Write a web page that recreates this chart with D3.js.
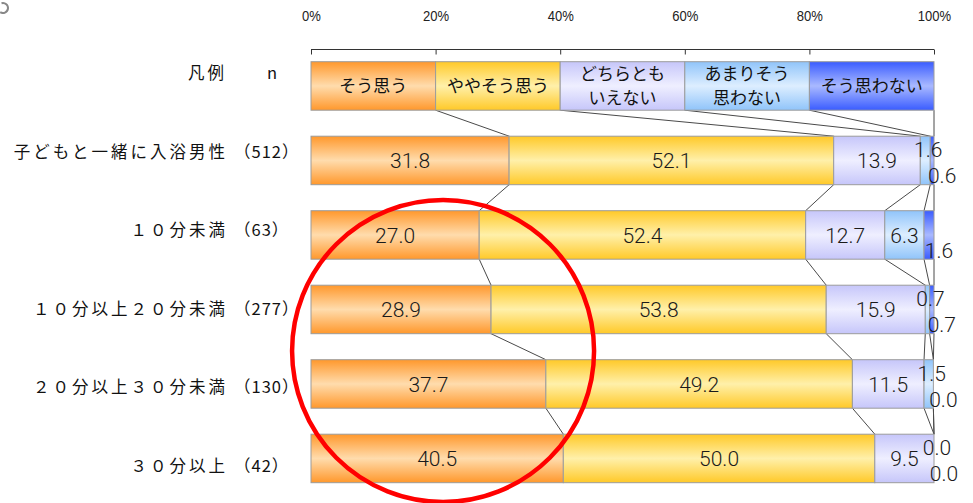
<!DOCTYPE html>
<html><head><meta charset="utf-8">
<script src="https://cdn.jsdelivr.net/npm/d3@7/dist/d3.min.js"></script>
<style>
html,body{margin:0;padding:0;background:#fff;}
svg{display:block;}
</style></head>
<body>
<svg id="chart" width="973" height="503"></svg>
<script>
// ---------- data ----------
const categories = ["子どもと一緒に入浴男性","１０分未満","１０分以上２０分未満","２０分以上３０分未満","３０分以上"];
const nLabels = ["（512）","（63）","（277）","（130）","（42）"];
const seriesNames = ["そう思う","ややそう思う","どちらともいえない","あまりそう思わない","そう思わない"];
const legendLines = [["そう思う"],["ややそう思う"],["どちらとも","いえない"],["あまりそう","思わない"],["そう思わない"]];
const legendShares = [20,20,20,20,20];
const soOmou   = [31.8,27.0,28.9,37.7,40.5];
const yayaSoOmou = [52.1,52.4,53.8,49.2,50.0];
const dochiraTomo = [13.9,12.7,15.9,11.5,9.5];
const amariSo  = [1.6,6.3,0.7,1.5,0.0];
const soOmowanai = [0.6,1.6,0.7,0.0,0.0];
const tickValues = [0,20,40,60,80,100];
const legendTitle = "凡例";
const nTitle = "n";

const seriesValues = [soOmou,yayaSoOmou,dochiraTomo,amariSo,soOmowanai];
const rows = categories.map((c,i)=>({name:c,n:nLabels[i],values:seriesValues.map(s=>s[i])}));

// ---------- styles ----------
const gradStops = [
  ["#FF982C","#FFDCAD","#FF982C"],
  ["#FFC928","#FFF0AA","#FFC928"],
  ["#C6C6FA","#EFEFFF","#C6C6FA"],
  ["#90C4FA","#DDEEFF","#90C4FA"],
  ["#3A5CFF","#A9B9FF","#3A5CFF"]
];
const jp = "'Noto Sans CJK JP','Noto Sans CJK SC',sans-serif";
const numFont = "Roboto,'Liberation Sans',sans-serif";

const svg = d3.select("#chart");
const defs = svg.append("defs");
gradStops.forEach((st,i)=>{
  const g = defs.append("linearGradient").attr("id","g"+i).attr("x1",0).attr("y1",0).attr("x2",0).attr("y2",1);
  g.append("stop").attr("offset","0%").attr("stop-color",st[0]);
  g.append("stop").attr("offset","50%").attr("stop-color",st[1]);
  g.append("stop").attr("offset","100%").attr("stop-color",st[2]);
});

// ---------- scales ----------
const x = d3.scaleLinear().domain([0,100]).range([311,934]);
const rowKeys = ["legend"].concat(categories);
const y = d3.scaleBand().domain(rowKeys).range([61.7,482.7]).paddingInner(0.349).paddingOuter(0);
const yLab = d3.scalePoint().domain(rowKeys).range([73,466]);

// ---------- axis ----------
const axis = d3.axisTop(x).tickValues(tickValues).tickSize(-5).tickPadding(29).tickFormat(d=>d+"%");
const ag = svg.append("g").attr("transform","translate(0,49.5)").call(axis);
ag.select(".domain").attr("stroke","#333").attr("d",`M${x(0)},0H${x(100)}`);
ag.selectAll(".tick line").attr("stroke","#333");
ag.selectAll(".tick text").attr("font-family","'Liberation Sans',Arial,sans-serif").attr("font-size",14.5).attr("fill","#222")
  .attr("transform","scale(0.9,1)");

// ---------- connector lines ----------
const legendCum = d3.cumsum(legendShares);
const cumRows = [Array.from(legendCum)].concat(rows.map(r=>Array.from(d3.cumsum(r.values))));
const lines = svg.append("g");
for(let i=0;i<cumRows.length-1;i++){
  const y1 = y(rowKeys[i])+y.bandwidth(), y2 = y(rowKeys[i+1]);
  cumRows[i].forEach((c,k)=>{
    lines.append("line").attr("x1",x(c)).attr("y1",y1).attr("x2",x(cumRows[i+1][k])).attr("y2",y2)
      .attr("stroke","#4a4a4a").attr("stroke-width",1);
  });
}

// ---------- legend bar ----------
const lg = svg.append("g");
legendShares.forEach((v,k)=>{
  const x0 = x(legendCum[k]-v), x1 = x(legendCum[k]);
  lg.append("rect").attr("x",x0).attr("y",y("legend")).attr("width",x1-x0).attr("height",y.bandwidth())
    .attr("fill",`url(#g${k})`).attr("stroke","#9c9c9c").attr("stroke-width",1);
  const ls = legendLines[k];
  const cy = y("legend")+y.bandwidth()/2;
  ls.forEach((t,j)=>{
    lg.append("text").attr("x",(x0+x1)/2).attr("y",cy+(j-(ls.length-1)/2)*24).attr("dy","0.36em")
      .attr("text-anchor","middle").attr("font-family",jp).attr("font-size",17).attr("fill","#111").text(t);
  });
});

// ---------- bars ----------
const bg = svg.append("g");
rows.forEach((r,i)=>{
  const cum = cumRows[i+1];
  const top = y(r.name), h = y.bandwidth(), cy = top+h/2;
  r.values.forEach((v,k)=>{
    const x0 = x(cum[k]-v), x1 = x(cum[k]);
    if(v>0){
      bg.append("rect").attr("x",x0).attr("y",top).attr("width",x1-x0).attr("height",h)
        .attr("fill",`url(#g${k})`).attr("stroke","#9c9c9c").attr("stroke-width",1);
    }
  });
  r.values.forEach((v,k)=>{
    const x0 = x(cum[k]-v), x1 = x(cum[k]);
    let lx = (x0+x1)/2, ly = cy;
    if(v<5){
      if(k===3){ lx += 3; ly = cy-11; } else { lx += 10; ly = cy+15; }
    }
    bg.append("text").attr("x",lx).attr("y",ly).attr("dy","0.36em").attr("text-anchor","middle")
      .attr("font-family",numFont).attr("font-weight",300).attr("font-size",21).attr("fill","#1a1a1a")
      .text(v.toFixed(1));
  });
});

// ---------- row labels ----------
const tg = svg.append("g").attr("font-family",jp).attr("font-size",16.5).attr("fill","#111");
tg.append("text").attr("x",227).attr("y",yLab("legend")).attr("dy","0.36em").attr("text-anchor","end")
  .attr("letter-spacing","3px").text(legendTitle);
tg.append("text").attr("x",272).attr("y",yLab("legend")).attr("dy","0.36em").attr("text-anchor","middle").text(nTitle);
rows.forEach(r=>{
  tg.append("text").attr("x",228).attr("y",yLab(r.name)).attr("dy","0.36em").attr("text-anchor","end")
    .attr("letter-spacing","3px").text(r.name);
  tg.append("text").attr("x",234).attr("y",yLab(r.name)).attr("dy","0.36em").attr("text-anchor","start")
    .attr("letter-spacing","1px").text(r.n);
});

// ---------- highlight circle ----------
svg.append("circle").attr("cx",x(21.2)).attr("cy",351).attr("r",151)
  .attr("fill","none").attr("stroke","#FF0000").attr("stroke-width",4.5);

// ---------- corner mark ----------
svg.append("path").attr("d",d3.arc()({innerRadius:4,outerRadius:6,startAngle:-0.3,endAngle:Math.PI+0.6}))
  .attr("transform","translate(3,8)").attr("fill","#888");
</script>
</body></html>
